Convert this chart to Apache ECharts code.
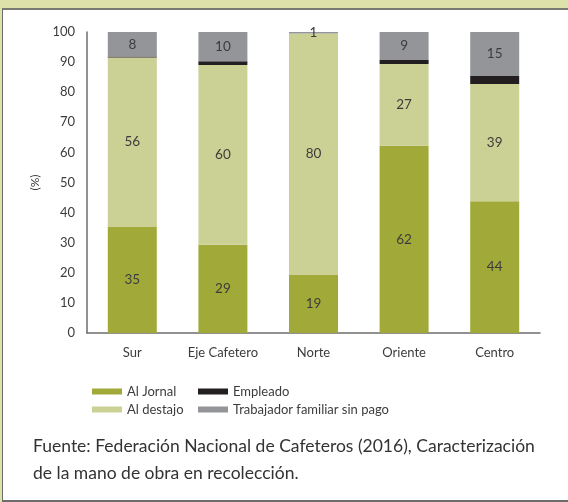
<!DOCTYPE html>
<html>
<head>
<meta charset="utf-8">
<script src="https://cdn.jsdelivr.net/npm/echarts@6/dist/echarts.min.js"></script>
<style>
  html, body { margin: 0; padding: 0; background: #dfe1aa; }
  #frame {
    position: absolute; left: 2px; top: 8px; width: 570px; height: 490px;
    background: #fff; border-left: 1px solid #6d6d6d; border-top: 2px solid #7a7a72;
    border-bottom: 2px solid #6d6d6d;
  }
  #chart { position: absolute; left: 0; top: 0; width: 568px; height: 502px; }
</style>
</head>
<body>
<div id="frame"></div>
<div id="chart"></div>
<script>
// regiones cafeteras
const regiones = ['Sur', 'Eje Cafetero', 'Norte', 'Oriente', 'Centro']
// participación (%) por tipo de contrato
const alJornal = [35.4, 29.3, 19.4, 62.2, 43.8]
const alDestajo = [56.1, 59.7, 80.1, 27.2, 38.9]
const empleado = [0.4, 1.3, 0, 1.3, 2.7]
const trabajadorFamiliar = [8.1, 9.7, 0.5, 9.3, 14.6]

const fuente = 'Futura, "Lato", "DejaVu Sans", sans-serif'
const textColor = '#3c3c3c'

const chart = echarts.init(document.getElementById('chart'))

function barSeries(name, data, color, withLabel) {
  return {
    name: name,
    type: 'bar',
    stack: 'total',
    barWidth: 49,
    data: data,
    itemStyle: { color: color },
    label: {
      show: withLabel,
      position: 'inside',
      color: textColor,
      fontFamily: fuente,
      fontSize: 13.5,
      formatter: p => Math.round(p.value)
    },
    emphasis: { disabled: true }
  }
}

chart.setOption({
  animation: false,
  textStyle: { fontFamily: fuente },
  grid: { left: 87, right: 28, top: 32, bottom: 169 },
  legend: [
    {
      orient: 'vertical', left: 87, top: 380, itemWidth: 30, itemHeight: 6, itemGap: 5,
      icon: 'rect', data: ['Al Jornal', 'Al destajo'],
      textStyle: { color: textColor, fontSize: 13, fontFamily: fuente }
    },
    {
      orient: 'vertical', left: 193, top: 380, itemWidth: 30, itemHeight: 6, itemGap: 5,
      icon: 'rect', data: ['Empleado', 'Trabajador familiar sin pago'],
      textStyle: { color: textColor, fontSize: 13, fontFamily: fuente }
    }
  ],
  xAxis: {
    type: 'category',
    data: regiones,
    axisLine: { lineStyle: { color: '#6d6d6d', width: 1.5 } },
    axisTick: { show: false },
    axisLabel: { color: textColor, fontSize: 13, margin: 13, interval: 0 }
  },
  yAxis: {
    type: 'value',
    min: 0, max: 100, interval: 10,
    name: '(%)',
    nameLocation: 'middle',
    nameGap: 40,
    nameRotate: 90,
    nameTextStyle: { color: textColor, fontSize: 12 },
    axisLine: { show: true, lineStyle: { color: '#6d6d6d', width: 1.5 } },
    axisTick: { show: false },
    splitLine: { show: false },
    axisLabel: { color: textColor, fontSize: 13, margin: 12 }
  },
  series: [
    barSeries('Al Jornal', alJornal, '#a1aa38', true),
    barSeries('Al destajo', alDestajo, '#cbd094', true),
    barSeries('Empleado', empleado, '#231f20', false),
    barSeries('Trabajador familiar sin pago', trabajadorFamiliar, '#939598', true)
  ],
  graphic: [
    {
      type: 'text', left: 33, top: 433,
      style: {
        text: 'Fuente: Federación Nacional de Cafeteros (2016), Caracterización\nde la mano de obra en recolección.',
        fill: '#333', fontSize: 17.5, lineHeight: 27, fontFamily: fuente
      }
    }
  ]
})
</script>
</body>
</html>
